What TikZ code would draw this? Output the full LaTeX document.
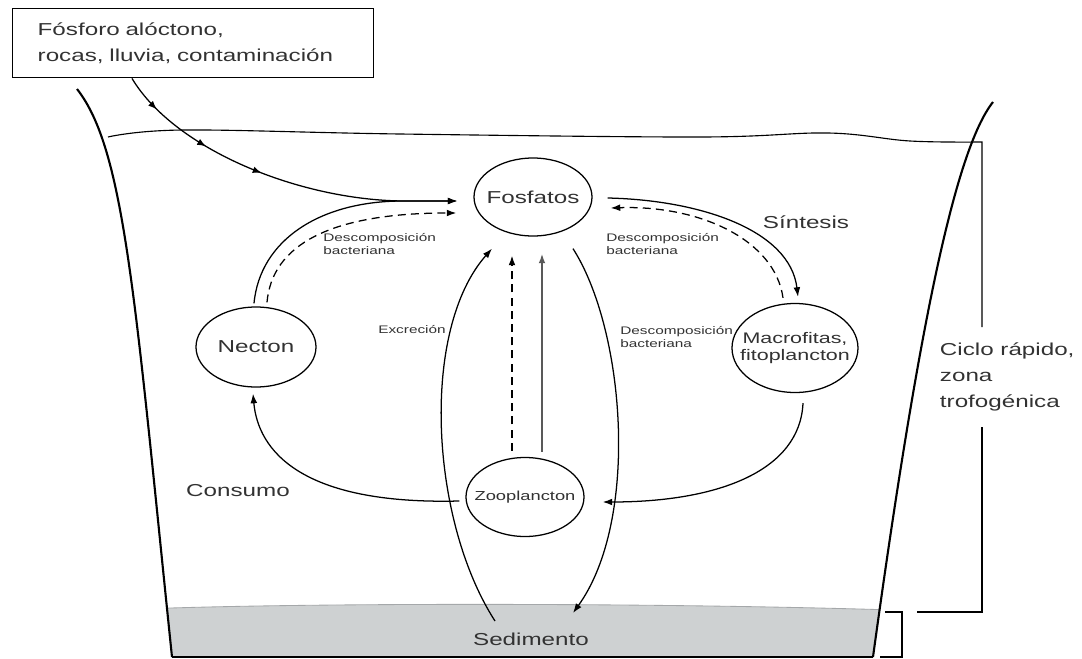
\documentclass[tikz,border=0pt]{standalone}
\usepackage{fontspec}
\setmainfont{Liberation Sans}[FakeStretch=1.4]
\usetikzlibrary{arrows.meta,calc,shapes.geometric,decorations.markings}
\definecolor{inkgray}{RGB}{50,50,50}
\definecolor{mudgray}{RGB}{206,209,210}
\definecolor{rimgray}{RGB}{165,168,170}

\begin{document}
\begin{tikzpicture}[x=0.25mm, y=-0.25mm,
    pool/.style={ellipse, draw, line width=0.9pt, inner xsep=-4mm, inner ysep=0pt, text=inkgray},
    flow/.style={line width=0.9pt, -{Latex[length=2.4mm,width=1.7mm]}},
    back/.style={flow, dash pattern=on 2mm off 1.3mm},
    bigtext/.style={font=\fontsize{12.3}{18.5}\selectfont, text=inkgray},
    smalltext/.style={font=\fontsize{7.8}{8.6}\selectfont, text=inkgray, align=left, inner sep=0pt},
    ticks/.style={decoration={markings,
        mark=at position 0.11 with {\arrow{Latex[length=2.2mm,width=1.7mm]}},
        mark=at position 0.28 with {\arrow{Latex[length=2.2mm,width=1.7mm]}},
        mark=at position 0.45 with {\arrow{Latex[length=2.2mm,width=1.7mm]}}},
        postaction={decorate}}]
    \useasboundingbox (0,0) rectangle (1082,659);

    % Sediment layer
    \begin{scope}
      \clip (77,89) .. controls (125,150) and (135,300) .. (172,657) -- (873,657)
        .. controls (918,330) and (955,150) .. (993,102) -- cycle;
      \fill[mudgray] (100,611) .. controls (250,602) and (700,602) .. (950,612) -- (950,670) -- (100,670) -- cycle;
      \draw[rimgray, line width=0.6pt] (100,611) .. controls (250,602) and (700,602) .. (950,612);
    \end{scope}
    \draw[line width=1.3pt] (172,657) -- (873,657);

    % Walls of the lake
    \draw[line width=1.5pt] (77,89) .. controls (125,150) and (135,300) .. (172,657);
    \draw[line width=1.5pt] (993,102) .. controls (955,150) and (918,330) .. (873,657);

    % Water surface and brackets
    \draw[line width=0.8pt] plot[smooth, tension=0.6] coordinates {(108,137) (183,130) (400,134) (700,137) (828,133) (910,141) (982,142)} -- (982,327);
    \draw[line width=1pt] (982,427) -- (982,612) -- (917,612);
    \draw[line width=1pt] (885,612) -- (902,612) -- (902,657) -- (880,657);

    % Source box
    \node[draw, line width=1pt, anchor=north west, text width=77.75mm, inner xsep=6.25mm,
      minimum height=17.25mm, align=left, font=\fontsize{12.3}{19}\selectfont, text=inkgray]
      (src) at (12,8) {Fósforo alóctono,\\rocas, lluvia, contaminación};

    % Compartments
    \node[pool, minimum width=29.5mm, minimum height=19.5mm, font=\fontsize{12.3}{14}\selectfont] (fos) at (533,197) {Fosfatos};
    \node[pool, minimum width=30mm, minimum height=20mm, font=\fontsize{12.3}{14}\selectfont] (nec) at (256,347) {Necton};
    \node[pool, minimum width=31.5mm, minimum height=22.25mm, align=center, font=\fontsize{10.9}{12.3}\selectfont] (mac) at (795,348) {Macrofitas,\\fitoplancton};
    \node[pool, minimum width=29.5mm, minimum height=19.75mm, font=\fontsize{9.3}{11}\selectfont] (zoo) at (525,497) {Zooplancton};
    \node[bigtext] (sed) at (531,639) {Sedimento};

    % Input of phosphorus
    \draw[flow, ticks] ($(src.south west)+(120,0)$) .. controls (175,150) and (300,200) .. (403,201) -- ($(fos.west)+(-16,4)$);

    % Necton and Fosfatos
    \draw[flow] ($(nec.north)+(-2,-3)$) .. controls (260,240) and (320,201) .. (403,201) -- ($(fos.west)+(-16,4)$);
    \draw[back] ($(nec.north)+(11,-4)$) .. controls (272,245) and (330,213) .. ($(fos.west)+(-17,16)$);

    % Fosfatos and Macrofitas
    \draw[flow] ($(fos.east)+(15,1)$) .. controls (700,200) and (790,230) .. ($(mac.north)+(3,-6)$);
    \draw[back] ($(mac.north)+(-12,-5)$) .. controls (775,240) and (700,205) .. ($(fos.east)+(18,11)$);

    % Zooplancton and Fosfatos
    \draw[back] ($(zoo.north)+(-13,-6)$) -- ($(fos.south)+(-21,19)$);
    \draw[flow, black!65, line width=1.3pt] ($(zoo.north)+(17,-5)$) -- ($(fos.south)+(9,17)$);

    % Sediment exchange
    \draw[flow] ($(sed)+(-36,-18)$) .. controls (430,520) and (420,330) .. ($(fos.south)+(-41,12)$);
    \draw[flow] ($(fos.south)+(40,12)$) .. controls (625,330) and (640,520) .. ($(sed)+(42,-26)$);

    % Consumption
    \draw[flow] ($(zoo.west)+(-6,4)$) .. controls (300,505) and (258,450) .. ($(nec.south)+(-3,6)$);
    \draw[flow] ($(mac.south)+(8,10)$) .. controls (800,470) and (720,502) .. ($(zoo.east)+(18,5)$);

    % Labels
    \node[smalltext, anchor=west] (decl) at (323,244) {Descomposición\\bacteriana};
    \node[smalltext, anchor=west] (decr) at (606,244) {Descomposición\\bacteriana};
    \node[smalltext, anchor=west] (decm) at (620,337) {Descomposición\\bacteriana};
    \node[smalltext] (exc) at (412,330) {Excreción};
    \node[bigtext] (sin) at (806,222) {Síntesis};
    \node[bigtext] (con) at (238,491) {Consumo};
    \node[bigtext, anchor=west, align=left] (cic) at (935,377) {Ciclo rápido,\\zona\\trofogénica};
\end{tikzpicture}
\end{document}
